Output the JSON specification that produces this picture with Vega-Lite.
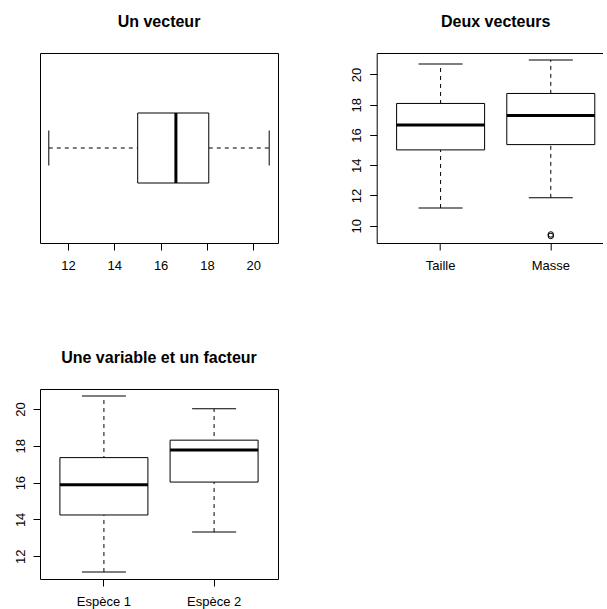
{
  "$schema": "https://vega.github.io/schema/vega-lite/v6.json",
  "background": "white",
  "padding": {"left": 13, "top": 13, "right": -13, "bottom": 0},
  "config": {
    "font": "Liberation Sans",
    "view": {"stroke": "black", "strokeWidth": 1},
    "axis": {"domain": false, "grid": false, "tickColor": "black", "tickSize": 7, "tickWidth": 1, "labelColor": "black", "labelFontSize": 13, "labelFont": "Liberation Sans", "labelPadding": 9, "labelOverlap": false, "labelFlush": false},
    "title": {"fontSize": 16, "fontWeight": "bold", "color": "black", "font": "Liberation Sans", "anchor": "middle", "frame": "group", "baseline": "alphabetic", "offset": 23}
  },
  "datasets": {
    "un": [{"serie": "Taille", "min": 11.17, "q1": 15.01, "med": 16.66, "q3": 18.08, "max": 20.69}],
    "deux": [
      {"serie": "Taille", "min": 11.17, "q1": 15.01, "med": 16.66, "q3": 18.08, "max": 20.69},
      {"serie": "Masse", "min": 11.84, "q1": 15.36, "med": 17.29, "q3": 18.74, "max": 20.95}
    ],
    "deuxOut": [{"serie": "Masse", "valeur": 9.32}, {"serie": "Masse", "valeur": 9.42}],
    "facteur": [
      {"espece": "Espèce 1", "min": 11.14, "q1": 14.24, "med": 15.88, "q3": 17.36, "max": 20.71},
      {"espece": "Espèce 2", "min": 13.31, "q1": 16.03, "med": 17.78, "q3": 18.31, "max": 20.02}
    ]
  },
  "columns": 2,
  "spacing": {"row": 146, "column": 98.7},
  "bounds": "flush",
  "concat": [
    {
      "title": "Un vecteur",
      "width": 238, "height": 190,
      "data": {"name": "un"},
      "encoding": {"y": {"field": "serie", "type": "nominal", "axis": null}},
      "layer": [
        {"mark": {"type": "rule", "strokeDash": [4, 4], "color": "black", "strokeWidth": 1},
         "encoding": {"x": {"field": "min", "type": "quantitative", "title": null, "scale": {"domain": [10.79, 21.07], "nice": false, "zero": false}, "axis": {"values": [12, 14, 16, 18, 20], "tickCount": 10, "title": null, "labelOverlap": false}}, "x2": {"field": "max"}}},
        {"mark": {"type": "tick", "color": "black", "thickness": 1, "size": 35, "opacity": 1},
         "encoding": {"x": {"field": "min", "type": "quantitative", "title": null}}},
        {"mark": {"type": "tick", "color": "black", "thickness": 1, "size": 35, "opacity": 1},
         "encoding": {"x": {"field": "max", "type": "quantitative", "title": null}}},
        {"mark": {"type": "bar", "fill": "white", "stroke": "black", "strokeWidth": 1, "size": 70},
         "encoding": {"x": {"field": "q1", "type": "quantitative", "title": null}, "x2": {"field": "q3"}}},
        {"mark": {"type": "tick", "color": "black", "thickness": 3, "size": 70, "opacity": 1},
         "encoding": {"x": {"field": "med", "type": "quantitative", "title": null}}}
      ]
    },
    {
      "title": "Deux vecteurs",
      "width": 238, "height": 190,
      "data": {"name": "deux"},
      "encoding": {"x": {"field": "serie", "type": "nominal", "sort": ["Taille", "Masse"], "scale": {"paddingInner": 0, "paddingOuter": 0.08}, "axis": {"labelAngle": 0, "title": null}}},
      "layer": [
        {"mark": {"type": "rule", "strokeDash": [4, 4], "color": "black", "strokeWidth": 1},
         "encoding": {"y": {"field": "min", "type": "quantitative", "title": null, "scale": {"domain": [8.855, 21.415], "nice": false, "zero": false}, "axis": {"values": [10, 12, 14, 16, 18, 20], "tickCount": 10, "title": null, "labelAngle": 270, "labelAlign": "center", "labelBaseline": "middle", "labelPadding": 13, "labelOverlap": false}}, "y2": {"field": "max"}}},
        {"mark": {"type": "tick", "color": "black", "thickness": 1, "size": 44, "opacity": 1},
         "encoding": {"y": {"field": "min", "type": "quantitative", "title": null}}},
        {"mark": {"type": "tick", "color": "black", "thickness": 1, "size": 44, "opacity": 1},
         "encoding": {"y": {"field": "max", "type": "quantitative", "title": null}}},
        {"mark": {"type": "bar", "fill": "white", "stroke": "black", "strokeWidth": 1, "size": 88},
         "encoding": {"y": {"field": "q1", "type": "quantitative", "title": null}, "y2": {"field": "q3"}}},
        {"mark": {"type": "tick", "color": "black", "thickness": 3, "size": 88, "opacity": 1},
         "encoding": {"y": {"field": "med", "type": "quantitative", "title": null}}},
        {"data": {"name": "deuxOut"},
         "mark": {"type": "point", "shape": "circle", "filled": false, "stroke": "black", "strokeWidth": 1, "size": 30, "opacity": 1},
         "encoding": {"y": {"field": "valeur", "type": "quantitative", "title": null}}}
      ]
    },
    {
      "title": "Une variable et un facteur",
      "width": 238, "height": 190,
      "data": {"name": "facteur"},
      "encoding": {"x": {"field": "espece", "type": "nominal", "sort": ["Espèce 1", "Espèce 2"], "scale": {"paddingInner": 0, "paddingOuter": 0.08}, "axis": {"labelAngle": 0, "title": null}}},
      "layer": [
        {"mark": {"type": "rule", "strokeDash": [4, 4], "color": "black", "strokeWidth": 1},
         "encoding": {"y": {"field": "min", "type": "quantitative", "title": null, "scale": {"domain": [10.757, 21.093], "nice": false, "zero": false}, "axis": {"values": [12, 14, 16, 18, 20], "tickCount": 10, "title": null, "labelAngle": 270, "labelAlign": "center", "labelBaseline": "middle", "labelPadding": 13, "labelOverlap": false}}, "y2": {"field": "max"}}},
        {"mark": {"type": "tick", "color": "black", "thickness": 1, "size": 44, "opacity": 1},
         "encoding": {"y": {"field": "min", "type": "quantitative", "title": null}}},
        {"mark": {"type": "tick", "color": "black", "thickness": 1, "size": 44, "opacity": 1},
         "encoding": {"y": {"field": "max", "type": "quantitative", "title": null}}},
        {"mark": {"type": "bar", "fill": "white", "stroke": "black", "strokeWidth": 1, "size": 88},
         "encoding": {"y": {"field": "q1", "type": "quantitative", "title": null}, "y2": {"field": "q3"}}},
        {"mark": {"type": "tick", "color": "black", "thickness": 3, "size": 88, "opacity": 1},
         "encoding": {"y": {"field": "med", "type": "quantitative", "title": null}}}
      ]
    }
  ]
}
